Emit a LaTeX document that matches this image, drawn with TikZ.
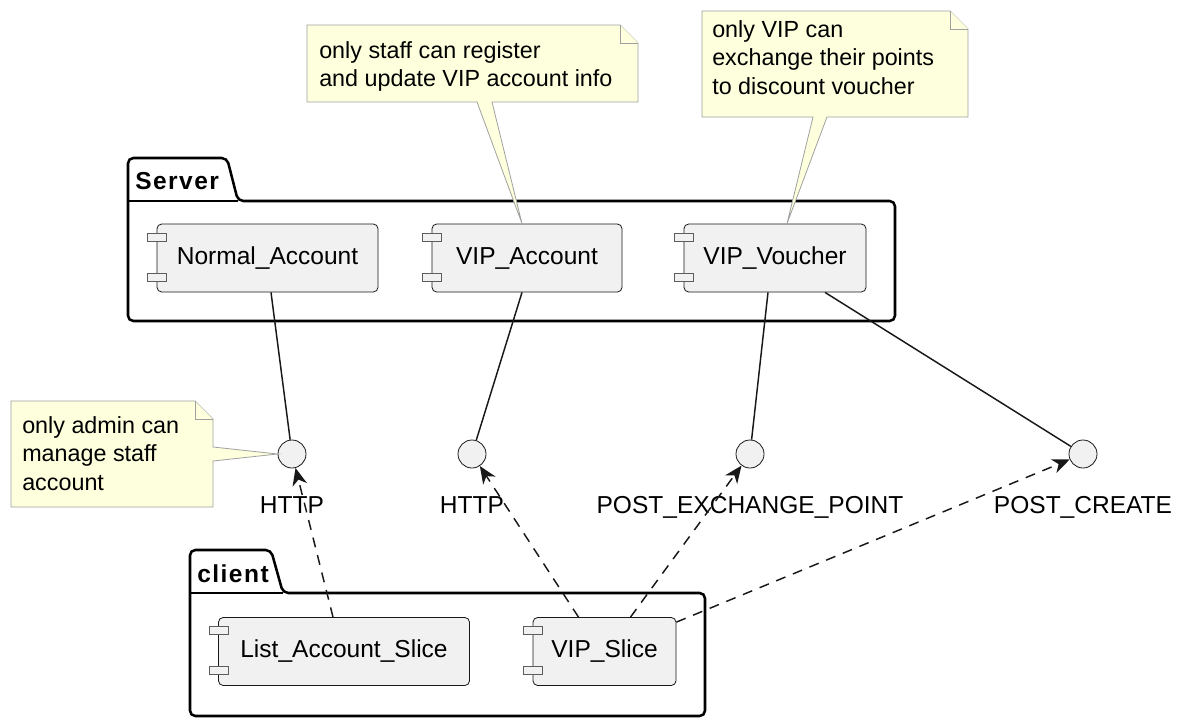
\documentclass[tikz,border=0pt]{standalone}
\usepackage{fontspec}
\setmainfont{Liberation Sans}
\usepackage{tikz}
\usetikzlibrary{positioning,arrows.meta}
\definecolor{CompFill}{HTML}{F1F1F1}
\definecolor{LineDark}{HTML}{181818}
\definecolor{NoteFill}{HTML}{FEFFDD}
\definecolor{NoteLine}{HTML}{A0A0A0}
\newcommand{\pxu}{0.75pt}

\begin{document}
\begin{tikzpicture}[
x=0.75pt, y=-0.75pt,
comp/.style={draw=LineDark, line width=0.6pt, rounded corners=3.5pt, fill=CompFill, minimum height=68*\pxu, inner sep=0pt, font=\fontsize{18.4}{22}\selectfont},
icon/.style={draw=LineDark!70, line width=0.6pt, fill=CompFill},
pkg/.style={draw=black, line width=1.9pt, rounded corners=4pt},
pkglabel/.style={anchor=base west, inner sep=0pt, font=\fontsize{18.4}{22}\selectfont\bfseries\addfontfeatures{LetterSpace=6}},
iface/.style={circle, draw=LineDark, line width=0.6pt, fill=CompFill, minimum size=28*\pxu, inner sep=0pt},
iflabel/.style={inner sep=0pt, font=\fontsize{18.4}{22}\selectfont},
note/.style={draw=NoteLine, line width=0.6pt, fill=NoteFill},
notetext/.style={anchor=north west, inner sep=0pt, align=left, font=\fontsize{17.5}{21.5}\selectfont},
link/.style={LineDark, line width=1.1pt},
dep/.style={LineDark, line width=1.1pt, dash pattern=on 7.5pt off 6pt, -{Stealth[length=13pt, width=11pt, inset=4pt]}}
]
\useasboundingbox (0,0) rectangle (1186,725);

\draw[pkg] (128,201) -- (128,158) -- (227,158) -- (238,201) -- (895,201) -- (895,321) -- (128,321) -- cycle;
\draw[pkg] (128,201) -- (238,201);
\node[pkglabel] (srvlbl) at (135,189) {Server};

\draw[pkg] (190,593) -- (190,550) -- (271,550) -- (283,593) -- (705,593) -- (705,716) -- (190,716) -- cycle;
\draw[pkg] (190,593) -- (283,593);
\node[pkglabel] (clilbl) at (197,582) {client};

\node[comp, minimum width=221*\pxu] (nacc) at (267.5,258) {Normal\_Account};
\node[comp, minimum width=190*\pxu] (vacc) at (527,258) {VIP\_Account};
\node[comp, minimum width=182*\pxu] (vvou) at (775,258) {VIP\_Voucher};
\node[comp, minimum width=251*\pxu] (lslice) at (344,651.5) {List\_Account\_Slice};
\node[comp, minimum width=143*\pxu] (vslice) at (604.5,651.5) {VIP\_Slice};
\foreach \c in {nacc,vacc,vvou,lslice,vslice} {
  \draw[icon] ([shift={(-9,-25)}]\c.west) rectangle ([shift={(10,-17)}]\c.west);
  \draw[icon] ([shift={(-9,15)}]\c.west) rectangle ([shift={(10,23)}]\c.west);
}

\node[iface] (http1) at (292,454) {};
\node[iface] (http2) at (472,454) {};
\node[iface] (pep) at (750,454) {};
\node[iface] (pcreate) at (1083,454) {};
\node[iflabel, below=21pt of http1] (http1lbl) {HTTP};
\node[iflabel, below=21pt of http2] (http2lbl) {HTTP};
\node[iflabel, below=21pt of pep] (peplbl) {POST\_EXCHANGE\_POINT};
\node[iflabel, below=21pt of pcreate] (pcreatelbl) {POST\_CREATE};

\draw[note] (307,25) -- (620,25) -- (638,43) -- (638,102) -- (492,102) -- ([xshift=-5*\pxu]vacc.north) -- (477,102) -- (307,102) -- cycle;
\draw[note] (620,25) -- (620,43) -- (638,43);
\node[notetext] (staffnote) at (319,41) {only staff can register\\and update VIP account info};

\draw[note] (702,11) -- (950,11) -- (968,29) -- (968,117) -- (827,117) -- ([xshift=12*\pxu]vvou.north) -- (813,117) -- (702,117) -- cycle;
\draw[note] (950,11) -- (950,29) -- (968,29);
\node[notetext] (vipnote) at (712,20) {only VIP can\\exchange their points\\to discount voucher};

\draw[note] (11,401) -- (195,401) -- (213,419) -- (213,447) -- (http1.west) -- (213,461) -- (213,507) -- (11,507) -- cycle;
\draw[note] (195,401) -- (195,419) -- (213,419);
\node[notetext] (adminnote) at (22,416) {only admin can\\manage staff\\account};

\draw[link] ([xshift=3.5*\pxu]nacc.south) -- (http1);
\draw[link] ([xshift=-5*\pxu]vacc.south) -- (http2);
\draw[link] ([xshift=-7*\pxu]vvou.south) -- (pep);
\draw[link] ([xshift=50*\pxu]vvou.south) -- (pcreate);

\draw[dep] ([xshift=-11*\pxu]lslice.north) -- (http1);
\draw[dep] ([xshift=-26*\pxu]vslice.north) -- (http2);
\draw[dep] ([xshift=26*\pxu]vslice.north) -- (pep);
\draw[dep] ([yshift=-5*\pxu]vslice.north east) -- (pcreate);
\end{tikzpicture}
\end{document}
